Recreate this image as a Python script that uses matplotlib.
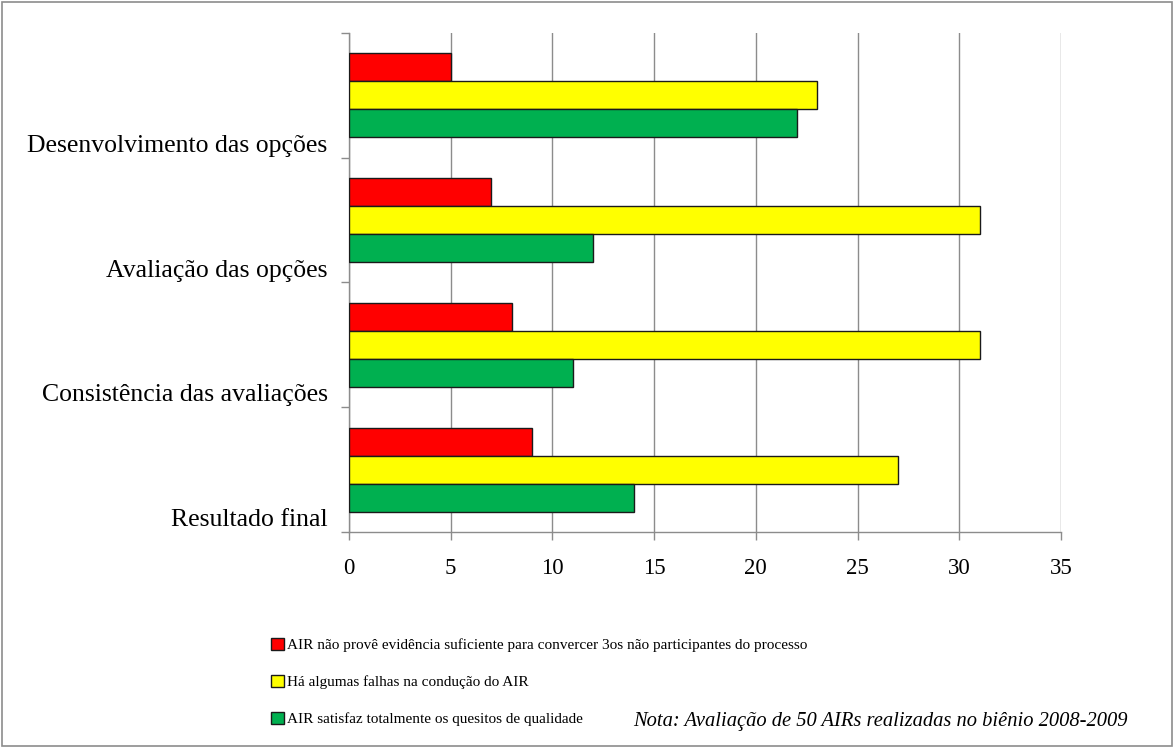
import matplotlib
matplotlib.use("Agg")
import matplotlib.pyplot as plt
from matplotlib.patches import Rectangle
import numpy as np

categories = ["Desenvolvimento das opções", "Avaliação das opções",
              "Consistência das avaliações", "Resultado final"]
series_names = ["AIR não provê evidência suficiente para convercer 3os não participantes do processo",
                "Há algumas falhas na condução do AIR",
                "AIR satisfaz totalmente os quesitos de qualidade"]
red_vals = [5, 7, 8, 9]
yellow_vals = [23, 31, 31, 27]
green_vals = [22, 12, 11, 14]
x_ticks = [0, 5, 10, 15, 20, 25, 30, 35]
note = "Nota: Avaliação de 50 AIRs realizadas no biênio 2008-2009"

colors = ["#FF0000", "#FFFF00", "#00B050"]

plt.rcParams['font.family'] = ['Liberation Serif', 'DejaVu Serif']

fig = plt.figure(figsize=(11.74, 7.48), dpi=100)
fig.patches.append(Rectangle((0.002, 0.003), 0.996, 0.994, transform=fig.transFigure,
                             fill=False, edgecolor="#8c8c8c", linewidth=1.2))

ax = fig.add_axes([0.2973, 0.2888, 0.6064, 0.6671])
y = np.arange(len(categories))
h = 0.224
for vals, off, col in zip([red_vals, yellow_vals, green_vals], [-h, 0, h], colors):
    ax.barh(y + off, vals, height=h, color=col, edgecolor="#1a1a1a", linewidth=1.0, zorder=3)

ax.set_xlim(0, 35)
ax.set_ylim(len(categories) - 0.5, -0.5)
ax.set_xticks(x_ticks)
ax.set_xticklabels([str(t) for t in x_ticks], fontsize=16.5)
ax.set_yticks(np.arange(len(categories) + 1) - 0.5)
ax.set_yticklabels([])
ax.tick_params(axis='both', direction='out', length=6, color="#8c8c8c", width=1.0)
ax.tick_params(axis='x', pad=13)
ax.grid(axis='x', color="#8c8c8c", linewidth=1.0, zorder=0)
for s in ['top', 'right']:
    ax.spines[s].set_visible(False)
for s in ['left', 'bottom']:
    ax.spines[s].set_color("#8c8c8c")
    ax.spines[s].set_linewidth(1.0)

trans = matplotlib.transforms.blended_transform_factory(ax.transAxes, ax.transData)
for i, c in enumerate(categories):
    ax.text(-0.030, i + 0.405, c, transform=trans, ha='right', va='center', fontsize=18.5)

handles = [Rectangle((0, 0), 1, 1, facecolor=c, edgecolor="#1a1a1a", linewidth=1.0) for c in colors]
fig.legend(handles, series_names, loc='upper left', bbox_to_anchor=(0.226, 0.155),
           frameon=False, fontsize=11.0, handlelength=0.8, handleheight=0.8,
           handletextpad=0.25, labelspacing=1.5, borderaxespad=0)

fig.text(0.9605, 0.036, note, ha='right', va='center', fontsize=14.8, style='italic')

fig.savefig("out.png", dpi=100)
